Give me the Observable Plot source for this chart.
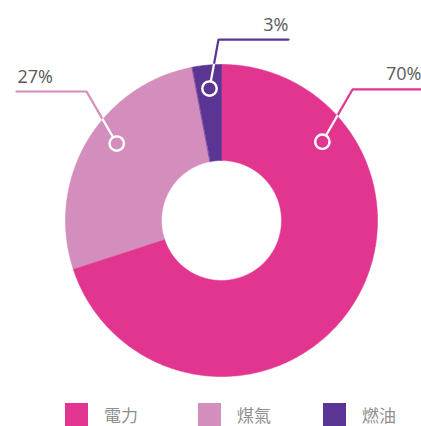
<!DOCTYPE html>
<html><head><meta charset="utf-8">
<script src="https://cdn.jsdelivr.net/npm/d3@7"></script>
<script src="https://cdn.jsdelivr.net/npm/@observablehq/plot@0.6"></script>
<style>
body{margin:0;background:#fff;font-family:"Open Sans","Noto Sans","Noto Sans CJK TC",sans-serif;}
#wrap{position:relative;width:421px;height:426px;overflow:hidden;}
#legend{position:absolute;left:0;top:403px;width:421px;height:23px;}
.item{position:absolute;top:0;height:23px;display:flex;align-items:center;}
.sw{width:23px;height:23px;}
.lt{margin-left:16px;font-family:"Noto Sans CJK TC","Noto Sans",sans-serif;font-size:17px;color:#8f8f8f;line-height:23px;}
</style>
</head><body>
<div id="wrap"><div id="chart"></div><div id="legend"></div></div>
<script>
// ---- data ----
const categories = ["電力", "煤氣", "燃油"];
const values = [70, 27, 3];
const labels = ["70%", "27%", "3%"];
const colors = ["#e2358f", "#d38ebd", "#5b3594"];

// ---- layout (not data) ----
const R_OUT = 156, R_IN = 60;
const markerPolar = [[52, 128], [-53.7, 130], [-5.2, 132.5]];   // [angle deg, radius]
const elbowPolar = [[45, 185.3], [-46.3, 186.7], [-0.95, 181]];
const endX = [200, -205, 67];
const legendLeft = [65, 198, 323];

const total = d3.sum(values);
const pol = (a, r) => ({x: r * Math.sin(a * Math.PI / 180), y: -r * Math.cos(a * Math.PI / 180)});

// arc polygons
const arcPts = [];
let acc = 0;
values.forEach((v, i) => {
  const a0 = acc / total * 360, a1 = (acc + v) / total * 360;
  acc += v;
  const n = Math.max(2, Math.ceil(a1 - a0) * 2);
  for (let k = 0; k <= n; k++) { const p = pol(a0 + (a1 - a0) * k / n, R_OUT); arcPts.push({...p, cat: categories[i]}); }
  for (let k = n; k >= 0; k--) { const p = pol(a0 + (a1 - a0) * k / n, R_IN); arcPts.push({...p, cat: categories[i]}); }
});

// leader lines
const colorLines = [], whiteLines = [], markers = [], texts = [];
categories.forEach((c, i) => {
  const m = pol(...markerPolar[i]), e = pol(...elbowPolar[i]);
  // find crossing with outer radius on segment m->e
  const dx = e.x - m.x, dy = e.y - m.y;
  const A = dx*dx + dy*dy, B = 2*(m.x*dx + m.y*dy), C = m.x*m.x + m.y*m.y - R_OUT*R_OUT;
  const t = (-B + Math.sqrt(B*B - 4*A*C)) / (2*A);
  const cr = {x: m.x + t*dx, y: m.y + t*dy};
  whiteLines.push({x: m.x, y: m.y, cat: c}, {x: cr.x, y: cr.y, cat: c});
  colorLines.push({x: cr.x, y: cr.y, cat: c}, {x: e.x, y: e.y, cat: c}, {x: endX[i], y: e.y, cat: c});
  markers.push({x: m.x, y: m.y, cat: c});
  texts.push({x: endX[i] + (endX[i] < 0 ? 1 : 0), y: e.y - 9, text: labels[i], anchor: endX[i] < 0 ? "start" : "end"});
});

const chart = Plot.plot({
  width: 421, height: 390,
  margin: 0,
  x: {domain: [-221, 200], range: [0, 421], axis: null},
  y: {domain: [-220, 170], range: [0, 390], axis: null},
  color: {domain: categories, range: colors},
  marks: [
    Plot.line(arcPts, {x: "x", y: "y", z: "cat", fill: "cat", stroke: "cat", strokeWidth: 0.6, curve: "linear-closed"}),
    Plot.line(colorLines, {x: "x", y: "y", z: "cat", stroke: "cat", strokeWidth: 2.2, strokeLinejoin: "miter"}),
    Plot.line(whiteLines, {x: "x", y: "y", z: "cat", stroke: "white", strokeWidth: 2.2}),
    Plot.dot(markers, {x: "x", y: "y", r: 7.2, fill: "cat", stroke: "white", strokeWidth: 2.4}),
    Plot.text(texts.filter(d => d.anchor === "start"), {x: "x", y: "y", text: "text", textAnchor: "start", lineAnchor: "bottom", fontSize: 18, fill: "#595959"}),
    Plot.text(texts.filter(d => d.anchor === "end"), {x: "x", y: "y", text: "text", textAnchor: "end", lineAnchor: "bottom", fontSize: 18, fill: "#595959"})
  ]
});
chart.style.fontFamily = '"Open Sans","Noto Sans",sans-serif';
document.getElementById("chart").appendChild(chart);

const leg = document.getElementById("legend");
categories.forEach((c, i) => {
  const it = document.createElement("div");
  it.className = "item"; it.style.left = legendLeft[i] + "px";
  it.innerHTML = `<div class="sw" style="background:${colors[i]}"></div><span class="lt">${c}</span>`;
  leg.appendChild(it);
});
</script>
</body></html>
